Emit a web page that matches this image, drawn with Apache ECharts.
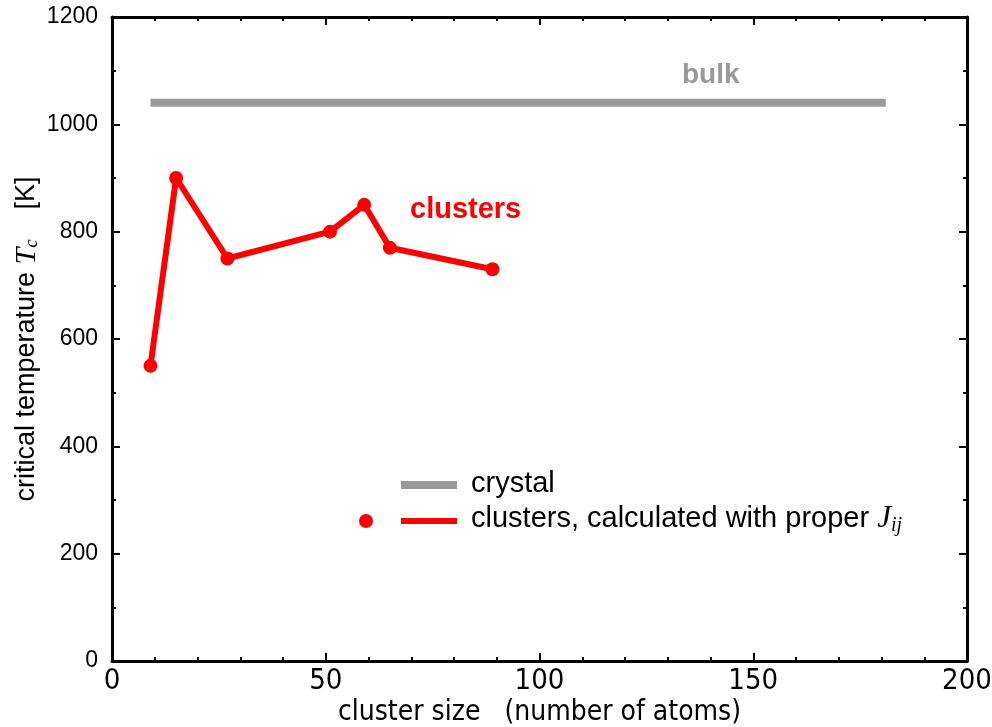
<!DOCTYPE html>
<html><head><meta charset="utf-8">
<script src="https://cdn.jsdelivr.net/npm/echarts@6/dist/echarts.min.js"></script>
<style>html,body{margin:0;padding:0;background:#fff}#c{width:992px;height:727px}</style>
</head><body><div id="c"></div>
<script>
const clusterSizes = [9, 15, 27, 51, 59, 65, 89];
const clusterTc = [550, 900, 750, 800, 850, 770, 730];
const bulkX = [9, 181];
const bulkTc = [1040, 1040];
const xTicks = [0, 50, 100, 150, 200];
const yTicks = [0, 200, 400, 600, 800, 1000, 1200];

const chart = echarts.init(document.getElementById('c'));
const narrow = '"Liberation Sans Narrow","DejaVu Sans Condensed","Liberation Sans",Arial,sans-serif';
const sans = '"Liberation Sans",Arial,sans-serif';
function ax(extra, minorSplit) {
  return Object.assign({
    axisLine: {show: true, onZero: false, lineStyle: {color: '#000', width: 3}},
    axisTick: {show: true, inside: true, length: 8, lineStyle: {color: '#000', width: 2}},
    minorTick: {show: true, splitNumber: minorSplit, length: 4, lineStyle: {color: '#000', width: 2}},
    splitLine: {show: false}
  }, extra);
}
chart.setOption({
  animation: false,
  grid: {left: 112, right: 25, top: 17, bottom: 66, containLabel: false, outerBoundsMode: 'none'},
  xAxis: [
    ax({type: 'value', min: 0, max: 200, interval: 50, position: 'bottom',
      name: 'cluster size   (number of atoms)', nameLocation: 'middle', nameGap: 38, nameMoveOverlap: false,
      nameTextStyle: {fontFamily: narrow, fontSize: 28, color: '#000'},
      axisLabel: {fontFamily: narrow, fontSize: 29, color: '#000', margin: 6,
        formatter: v => xTicks.includes(v) ? String(v) : ''}}, 5),
    ax({type: 'value', min: 0, max: 200, interval: 50, position: 'top', axisLabel: {show: false}}, 5)
  ],
  yAxis: [
    ax({type: 'value', min: 0, max: 1200, interval: 200, position: 'left',
      name: '{n|critical temperature }{i|T}{s|c}{n|    [K]}', nameLocation: 'middle', nameGap: 70, nameRotate: 90, nameMoveOverlap: false,
      nameTextStyle: {fontFamily: sans, fontSize: 27, color: '#000', rich: {
        n: {fontFamily: sans, fontSize: 27, color: '#000'},
        i: {fontFamily: '"Liberation Serif",serif', fontStyle: 'italic', fontSize: 30, color: '#000'},
        s: {fontFamily: '"Liberation Serif",serif', fontStyle: 'italic', fontSize: 19, color: '#000', padding: [10, 0, 0, 0]}
      }},
      axisLabel: {fontFamily: sans, fontSize: 23, color: '#000', margin: 14,
        formatter: v => yTicks.includes(v) ? String(v) : ''}}, 2),
    ax({type: 'value', min: 0, max: 1200, interval: 200, position: 'right', axisLabel: {show: false}}, 2)
  ],
  series: [
    {type: 'line', name: 'crystal', data: bulkX.map((x, i) => [x, bulkTc[i]]), showSymbol: false, symbol: 'none',
      lineStyle: {color: '#999999', width: 8, cap: 'butt'}, z: 2},
    {type: 'line', name: 'clusters', data: clusterSizes.map((x, i) => [x, clusterTc[i]]),
      symbol: 'circle', symbolSize: 14, itemStyle: {color: '#ff0000'},
      lineStyle: {color: '#ff0000', width: 6}, z: 3}
  ],
  graphic: [
    {type: 'text', left: 682, top: 61, style: {text: 'bulk', font: 'bold 28px "Liberation Sans",Arial', fill: '#999999'}},
    {type: 'text', left: 410, top: 195, style: {text: 'clusters', font: 'bold 29px "Liberation Sans",Arial', fill: '#ff0000'}},
    {type: 'line', shape: {x1: 401, y1: 485, x2: 457, y2: 485}, style: {stroke: '#999999', lineWidth: 8}},
    {type: 'text', left: 471, top: 469, style: {text: 'crystal', font: '29px "Liberation Sans",Arial', fill: '#000'}},
    {type: 'circle', shape: {cx: 366, cy: 521, r: 7}, style: {fill: '#ff0000'}},
    {type: 'line', shape: {x1: 401, y1: 521, x2: 457, y2: 521}, style: {stroke: '#ff0000', lineWidth: 6}},
    {type: 'text', left: 471, top: 503, style: {
      text: '{n|clusters, calculated with proper }{i|J}{s|ij}',
      rich: {
        n: {fontFamily: sans, fontSize: 29, fill: '#000'},
        i: {fontFamily: '"Liberation Serif",serif', fontStyle: 'italic', fontSize: 31, fill: '#000'},
        s: {fontFamily: '"Liberation Serif",serif', fontStyle: 'italic', fontSize: 20, fill: '#000', padding: [14, 0, 0, 0]}
      }}}
  ]
});
</script></body></html>
